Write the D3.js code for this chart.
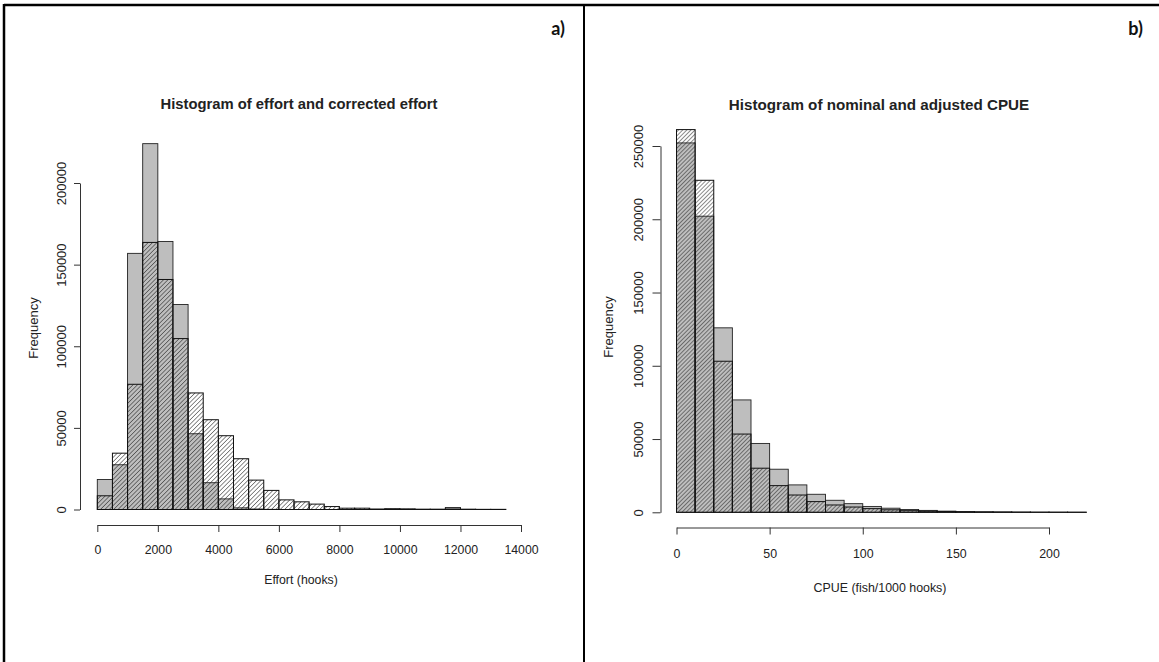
<!DOCTYPE html>
<html>
<head>
<meta charset="utf-8">
<script src="https://cdn.jsdelivr.net/npm/d3@7"></script>
<style>
body { margin:0; background:#fff; }
text { font-family:"Liberation Sans", Arial, sans-serif; fill:#222; }
.axis path, .axis line { stroke:#333; stroke-width:1; }
.axis text { fill:#222; }
</style>
</head>
<body>
<div id="chartplace"></div>
<script>
// panel a: effort, bins of 500 hooks
var effortBins = [0,500,1000,1500,2000,2500,3000,3500,4000,4500,5000,5500,6000,6500,
	7000,7500,8000,8500,9000,9500,10000,10500,11000,11500,12000,12500,13000];
var effortWidth = 500;
var effortGray = [18400,27400,156900,224100,164200,125600,46400,16400,6500,1000,300,100,0,0,
	0,0,0,0,0,0,0,0,0,1200,0,0,0];
var effortHatch = [8400,34500,76700,163600,140900,104700,71400,55000,45200,31100,18000,11700,5900,4700,
	3300,1800,800,800,300,500,400,200,200,300,200,100,100];
var effortTicks = [0,2000,4000,6000,8000,10000,12000,14000];
var freqTicksA = [0,50000,100000,150000,200000];

// panel b: CPUE, bins of 10 fish/1000 hooks
var cpueBins = [0,10,20,30,40,50,60,70,80,90,100,110,120,130,140,150,160,170,180,190,200,210];
var cpueWidth = 10;
var cpueGray = [252100,202100,125900,76700,47000,29400,18700,12300,8200,5900,4000,2800,1900,1300,
	800,500,350,250,150,100,80,60];
var cpueHatch = [261200,226600,103100,53400,30100,18200,11800,7300,5000,3600,2500,1700,1100,800,
	500,300,200,150,100,70,50,40];
var cpueTicks = [0,50,100,150,200];
var freqTicksB = [0,50000,100000,150000,200000,250000];

var W = 1159, H = 662;
var svg = d3.select("#chartplace").append("svg")
	.attr("width", W).attr("height", H);
svg.append("rect").attr("width", W).attr("height", H).attr("fill", "white");

// hatch patterns ("/" lines)
var defs = svg.append("defs");
function hatch(id, w){
	var p = defs.append("pattern").attr("id", id)
		.attr("patternUnits", "userSpaceOnUse")
		.attr("width", w).attr("height", w)
		.attr("patternTransform", "rotate(45)");
	p.append("line").attr("x1", 0).attr("y1", 0).attr("x2", 0).attr("y2", w)
		.attr("stroke", "#1a1a1a").attr("stroke-width", 1);
}
hatch("hatchA", 3.1);
hatch("hatchB", 2.9);

// frame of the two panels
svg.append("line").attr("x1", 4).attr("x2", W).attr("y1", 5).attr("y2", 5)
	.attr("stroke", "black").attr("stroke-width", 2.5);
svg.append("line").attr("x1", 4).attr("x2", 4).attr("y1", 4).attr("y2", H)
	.attr("stroke", "black").attr("stroke-width", 2.5);
svg.append("line").attr("x1", 584).attr("x2", 584).attr("y1", 4).attr("y2", H)
	.attr("stroke", "black").attr("stroke-width", 2);

function panel(o){
	var x = d3.scaleLinear().domain(o.xdom).range(o.xr);
	var y = d3.scaleLinear().domain(o.ydom).range(o.yr);
	var g = svg.append("g");

	// gray histogram first
	g.selectAll(".gray").data(o.bins).enter().append("rect")
		.attr("x", function(d){ return x(d); })
		.attr("width", function(d){ return x(d + o.bw) - x(d); })
		.attr("y", function(d, i){ return y(o.gray[i]); })
		.attr("height", function(d, i){ return y(0) - y(o.gray[i]); })
		.attr("fill", "#bebebe").attr("stroke", "#222").attr("stroke-width", 0.9);
	// hatched histogram added on top
	g.selectAll(".hatch").data(o.bins).enter().append("rect")
		.attr("x", function(d){ return x(d); })
		.attr("width", function(d){ return x(d + o.bw) - x(d); })
		.attr("y", function(d, i){ return y(o.hatch[i]); })
		.attr("height", function(d, i){ return y(0) - y(o.hatch[i]); })
		.attr("fill", "url(#" + o.pat + ")").attr("stroke", "#111").attr("stroke-width", 1);

	// x axis
	var xa = g.append("g").attr("class", "axis")
		.attr("transform", "translate(0," + o.xaxisY + ")")
		.call(d3.axisBottom(x).tickValues(o.xticks).tickSize(7).tickSizeOuter(0)
			.tickPadding(o.xpad).tickFormat(d3.format("d")));
	xa.selectAll("text").style("font-size", o.xfs + "px").style("font-family", "Liberation Sans");

	// y axis, labels turned like R
	var ya = g.append("g").attr("class", "axis")
		.attr("transform", "translate(" + o.yaxisX + ",0)")
		.call(d3.axisLeft(y).tickValues(o.yticks).tickSize(o.ytick).tickSizeOuter(0)
			.tickFormat(d3.format("d")));
	ya.selectAll("text")
		.attr("x", 0).attr("y", -o.ylabOff).attr("dy", "0.35em")
		.attr("transform", "rotate(-90)")
		.attr("text-anchor", "middle")
		.style("font-size", "13px").style("font-family", "Liberation Sans");

	// titles
	svg.append("text").attr("x", o.titleX).attr("y", o.titleY)
		.attr("text-anchor", "middle").style("font-weight", "bold")
		.style("font-size", o.tfs + "px").text(o.title);
	svg.append("text").attr("x", o.xlabX).attr("y", o.xlabY)
		.attr("text-anchor", "middle").style("font-size", o.xfs + "px").text(o.xlab);
	svg.append("text").attr("transform", "translate(" + o.ylabX + "," + o.ylabY + ") rotate(-90)")
		.attr("text-anchor", "middle").attr("dy", "0.35em")
		.style("font-size", "13px").text("Frequency");
	svg.append("text").attr("x", o.tagX).attr("y", 35)
		.attr("text-anchor", "end").style("font-family", "Lato").style("font-weight", "bold")
		.style("font-size", "18px").style("fill", "#111").text(o.tag);
}

panel({
	bins: effortBins, bw: effortWidth, gray: effortGray, hatch: effortHatch, pat: "hatchA",
	xdom: [0, 14000], xr: [97.3, 521], ydom: [0, 200000], yr: [509.5, 183],
	xticks: effortTicks, yticks: freqTicksA,
	xaxisY: 525, xpad: 13, xfs: 12.3, yaxisX: 80, ytick: 6, ylabOff: 19,
	title: "Histogram of effort and corrected effort", titleX: 299, titleY: 109, tfs: 14.8,
	xlab: "Effort (hooks)", xlabX: 301, xlabY: 584, ylabX: 33, ylabY: 328,
	tag: "a)", tagX: 565
});

panel({
	bins: cpueBins, bw: cpueWidth, gray: cpueGray, hatch: cpueHatch, pat: "hatchB",
	xdom: [0, 200], xr: [676.5, 1049], ydom: [0, 250000], yr: [512.3, 146],
	xticks: cpueTicks, yticks: freqTicksB,
	xaxisY: 527.5, xpad: 15, xfs: 12.4, yaxisX: 660.5, ytick: 8, ylabOff: 22,
	title: "Histogram of nominal and adjusted CPUE", titleX: 879, titleY: 110, tfs: 15.2,
	xlab: "CPUE (fish/1000 hooks)", xlabX: 880, xlabY: 592, ylabX: 608, ylabY: 327,
	tag: "b)", tagX: 1143
});
</script>
</body>
</html>
